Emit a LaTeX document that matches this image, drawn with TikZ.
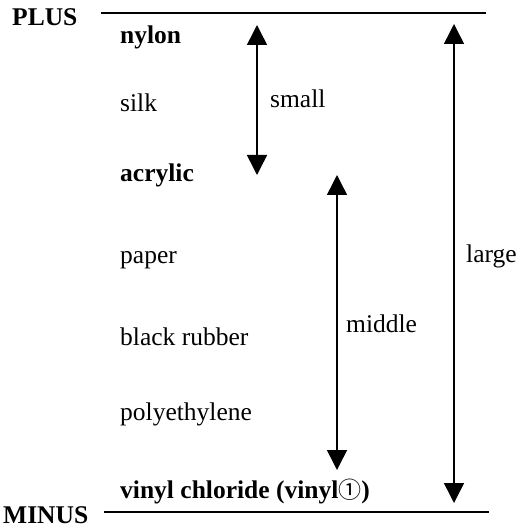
\documentclass[tikz,border=0pt]{standalone}
\usepackage{fontspec}
\setmainfont{Liberation Serif}
\newfontfamily\symfont{Noto Sans CJK JP}
\usetikzlibrary{arrows.meta}
\begin{document}
\begin{tikzpicture}[x=1pt,y=-1pt,
  lbl/.style={anchor=base west,inner sep=0pt,font=\fontsize{25.5}{29}\selectfont},
  blbl/.style={lbl,font=\fontsize{25.5}{29}\selectfont\bfseries},
  rule/.style={line width=1.6pt},
  dbl/.style={line width=1.5pt,{Triangle[width=20pt,length=20pt]}-{Triangle[width=20pt,length=20pt]}}]
\useasboundingbox (0,0) rectangle (524,529);
% poles
\node[blbl] (plus) at (12,26) {PLUS};
\node[blbl] (minus) at (3,523) {MINUS};
\coordinate (t1) at (101,13); \coordinate (t2) at (486,13);
\coordinate (b1) at (104,512); \coordinate (b2) at (489,512);
\draw[rule] (t1) -- (t2);
\draw[rule] (b1) -- (b2);
% materials
\node[blbl] (nylon) at (120,44) {nylon};
\node[lbl] (silk) at (120,112) {silk};
\node[blbl] (acrylic) at (120,182) {acrylic};
\node[lbl] (paper) at (120,263) {paper};
\node[lbl] (rubber) at (120,345) {black rubber};
\node[lbl] (poly) at (120,420) {polyethylene};
\node[blbl] (vinyl) at (120,498) {vinyl chloride (vinyl{\mdseries\symfont\fontsize{23}{26}\selectfont ①})};
% arrows
\coordinate (s1) at (257,25); \coordinate (s2) at (257,175);
\coordinate (m1) at (337,175); \coordinate (m2) at (337,470);
\coordinate (l1) at (454,24); \coordinate (l2) at (454,503);
\draw[dbl] (s1) -- (s2);
\draw[dbl] (m1) -- (m2);
\draw[dbl] (l1) -- (l2);
\node[lbl] (small) at (270,108) {small};
\node[lbl] (middle) at (346,332) {middle};
\node[lbl] (large) at (466,262) {large};
\end{tikzpicture}
\end{document}
